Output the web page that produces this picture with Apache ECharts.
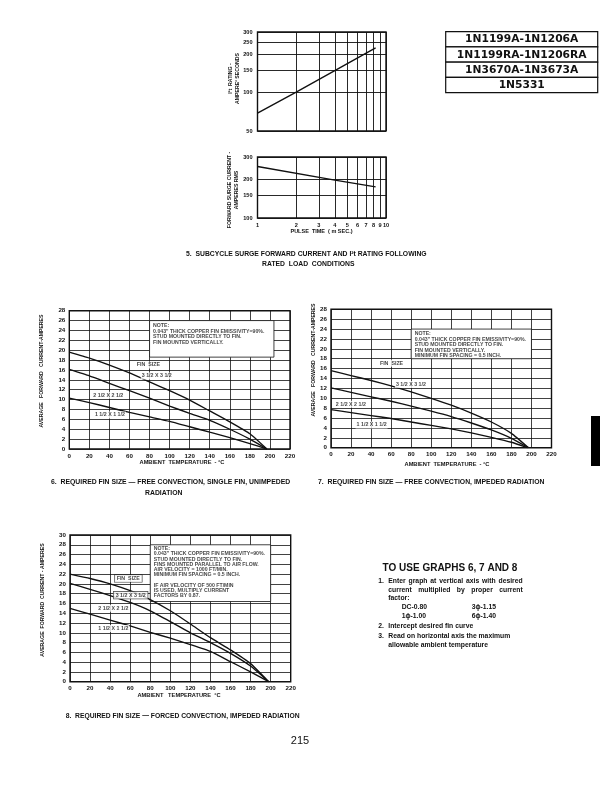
<!DOCTYPE html>
<html><head><meta charset="utf-8">
<script src="https://cdn.jsdelivr.net/npm/echarts@6/dist/echarts.min.js"></script>
<style>html,body{margin:0;padding:0;background:#fff}#c{width:612px;height:788px}</style>
</head><body><div id="c"></div>
<script>
// ---------- Figure 5 data ----------
const pulseTicks = [1, 2, 3, 4, 5, 6, 7, 8, 9, 10];
const i2tTicks = [50, 100, 150, 200, 250, 300];
const surgeTicks = [100, 150, 200, 300];
const i2tRating = [[1, 69], [2, 101], [8.3, 225]];
const surgeCurrent = [[1, 253], [4, 198], [8.3, 175]];

// ---------- Figures 6-8 data (ambient temp C, amperes) ----------
const fig6Fin35 = [[0,19.6],[20,18.4],[40,17.0],[60,15.4],[80,13.6],[100,11.8],[120,9.9],[140,7.7],[160,5.5],[180,3.1],[197,0]];
const fig6Fin25 = [[0,16.1],[20,14.8],[40,13.3],[60,11.8],[80,10.3],[100,8.7],[120,7.2],[140,5.8],[160,4.0],[180,2.0],[197,0]];
const fig6Fin15 = [[0,10.3],[20,9.4],[40,8.4],[60,7.4],[80,6.5],[100,5.6],[120,4.5],[140,3.4],[160,2.3],[180,1.1],[197,0]];

const fig7Fin35 = [[0,15.6],[20,14.6],[40,13.6],[60,12.5],[80,11.3],[100,10.0],[120,8.6],[140,7.0],[160,5.2],[180,2.9],[197,0]];
const fig7Fin25 = [[0,12.1],[20,11.2],[40,10.3],[60,9.4],[80,8.4],[100,7.4],[120,6.3],[140,5.0],[160,3.6],[180,1.9],[197,0]];
const fig7Fin15 = [[0,7.7],[20,7.1],[40,6.5],[60,5.9],[80,5.2],[100,4.5],[120,3.8],[140,3.0],[160,2.1],[180,1.1],[196,0]];

const fig8Fin35 = [[0,22.0],[20,21.1],[40,20.0],[60,18.6],[80,16.8],[100,14.5],[120,11.8],[140,9.0],[160,6.5],[180,3.7],[198,0]];
const fig8Fin25 = [[0,20.1],[20,18.9],[40,17.6],[60,16.2],[80,14.5],[100,12.3],[120,10.0],[140,8.0],[160,5.8],[180,3.2],[198,0]];
const fig8Fin15 = [[0,15.0],[20,13.8],[40,12.6],[60,11.4],[80,10.1],[100,8.9],[120,7.6],[140,6.2],[160,4.1],[180,2.0],[198,0]];

const finLabels = ['3 1/2 X 3 1/2', '2 1/2 X 2 1/2', '1 1/2 X 1 1/2'];
const partNumbers = ['1N1199A-1N1206A', '1N1199RA-1N1206RA', '1N3670A-1N3673A', '1N5331'];

// ---------- styling ----------
const F = 'Liberation Sans';
const INK = '#111';
const chart = echarts.init(document.getElementById('c'), null, {renderer: 'canvas', width: 612, height: 788});

const tickFont = {fontFamily: F, fontWeight: 'bold', fontSize: 6.2, color: INK};
function logX(grid, showLabels) {
  return {type: 'log', logBase: 10, gridIndex: grid, min: 1, max: 10,
    axisLine: {show: false}, axisTick: {show: false, customValues: pulseTicks},
    axisLabel: Object.assign({show: showLabels, customValues: pulseTicks, margin: 4}, tickFont, {fontSize: 5.6}),
    splitLine: {show: true, lineStyle: {color: INK, width: 0.9}}};
}
function logY(grid, min, max, ticks) {
  return {type: 'log', logBase: 10, gridIndex: grid, min: min, max: max,
    axisLine: {show: false}, axisTick: {show: false, customValues: ticks},
    axisLabel: Object.assign({customValues: ticks, margin: 5}, tickFont, {fontSize: 5.6}),
    splitLine: {show: true, lineStyle: {color: INK, width: 0.9}}};
}
function valX(grid) {
  return {type: 'value', gridIndex: grid, min: 0, max: 220, interval: 20,
    axisLine: {show: false}, axisTick: {show: false},
    axisLabel: Object.assign({margin: 4}, tickFont),
    splitLine: {show: true, lineStyle: {color: INK, width: 0.8}}};
}
function valY(grid, max) {
  return {type: 'value', gridIndex: grid, min: 0, max: max, interval: 2,
    axisLine: {show: false}, axisTick: {show: false},
    axisLabel: Object.assign({margin: 4}, tickFont),
    splitLine: {show: true, lineStyle: {color: INK, width: 0.8}}};
}
function curve(idx, data, extra) {
  return Object.assign({type: 'line', xAxisIndex: idx, yAxisIndex: idx, data: data,
    symbol: 'none', smooth: 0.15, silent: true, z: 3,
    lineStyle: {color: INK, width: 1.35}}, extra || {});
}
function noteArea(from, to) {
  return {markArea: {silent: true, z: 2,
    itemStyle: {color: '#fff', borderColor: INK, borderWidth: 0.8},
    label: {show: false},
    data: [[{coord: from}, {coord: to}]]}};
}
function labels(idx, items) {
  return {type: 'scatter', xAxisIndex: idx, yAxisIndex: idx, symbolSize: 1, silent: true, z: 5,
    itemStyle: {color: 'rgba(0,0,0,0)'},
    data: items.map(it => ({value: [it[0], it[1]], label: Object.assign({formatter: it[2]}, it[3] || {})})),
    label: {show: true, position: 'right', distance: 0, fontFamily: F, fontWeight: 'bold', fontSize: 5.3,
      color: INK, backgroundColor: '#fff', padding: [1, 1]}};
}
function note(idx, at, text, lh) {
  return {type: 'scatter', xAxisIndex: idx, yAxisIndex: idx, symbolSize: 1, silent: true, z: 6,
    itemStyle: {color: 'rgba(0,0,0,0)'},
    data: [{value: at}],
    label: {show: true, position: [0, 0], align: 'left', verticalAlign: 'top', formatter: text,
      fontFamily: F, fontWeight: 'bold', fontSize: 5.2, lineHeight: lh, color: INK}};
}

const gridBase = {show: true, borderColor: INK, borderWidth: 1.4, backgroundColor: '#fff'};
const grids = [
  Object.assign({left: 257.5, top: 32, width: 128.5, height: 99}, gridBase),
  Object.assign({left: 257.5, top: 157, width: 128.5, height: 61}, gridBase),
  Object.assign({left: 69.3, top: 310.7, width: 220.7, height: 138.3}, gridBase),
  Object.assign({left: 331, top: 309.3, width: 220.5, height: 138.4}, gridBase),
  Object.assign({left: 70, top: 535, width: 220.7, height: 146.7}, gridBase)
];

const note6 = 'NOTE:\n0.043" THICK COPPER FIN EMISSIVITY=90%.\nSTUD MOUNTED DIRECTLY TO FIN.\nFIN MOUNTED VERTICALLY.';
const note7 = 'NOTE:\n0.043" THICK COPPER FIN EMISSIVITY=90%.\nSTUD MOUNTED DIRECTLY TO FIN.\nFIN MOUNTED VERTICALLY.\nMINIMUM FIN SPACING = 0.5 INCH.';
const note8 = 'NOTE:\n0.043" THICK COPPER FIN EMISSIVITY=90%.\nSTUD MOUNTED DIRECTLY TO FIN.\nFINS MOUNTED PARALLEL TO AIR FLOW.\nAIR VELOCITY = 1000 FT/MIN.\nMINIMUM FIN SPACING = 0.5 INCH.\n\nIF AIR VELOCITY OF 500 FT/MIN\nIS USED, MULTIPLY CURRENT\nFACTORS BY 0.87.';

const boxed = {borderColor: INK, borderWidth: 0.6, padding: [1, 2]};

const series = [
  curve(0, i2tRating, {smooth: false}),
  curve(1, surgeCurrent, {smooth: false}),
  curve(2, fig6Fin35, noteArea([80, 18.6], [204, 26])),
  curve(2, fig6Fin25),
  curve(2, fig6Fin15),
  curve(3, fig7Fin35, noteArea([80, 18], [200, 24])),
  curve(3, fig7Fin25),
  curve(3, fig7Fin15),
  curve(4, fig8Fin35, noteArea([80, 16.4], [200, 28])),
  curve(4, fig8Fin25),
  curve(4, fig8Fin15),
  note(2, [84, 25.5], note6, 5.8),
  note(3, [84, 23.5], note7, 5.5),
  note(4, [84, 27.6], note8, 5.2),
  labels(2, [[65.7, 17.0, 'FIN  SIZE'], [70.7, 14.8, finLabels[0]], [22.4, 10.9, finLabels[1]], [24, 6.9, finLabels[2]]]),
  labels(3, [[47.3, 17.1, 'FIN  SIZE'], [63.3, 12.8, finLabels[0]], [3.3, 8.8, finLabels[1]], [24, 4.6, finLabels[2]]]),
  labels(4, [[44, 21.1, 'FIN  SIZE', boxed], [43, 17.7, finLabels[0], boxed], [26.7, 15.0, finLabels[1]], [26.7, 10.9, finLabels[2]]])
];

// ---------- page text ----------
function T(x, y, text, size, o) {
  o = o || {};
  return {type: 'text', x: x, y: y, rotation: o.rot || 0, silent: true, z: 10,
    style: {text: text, fontFamily: o.family || F, fontWeight: o.weight || 'bold', fontSize: size,
      fill: INK, align: o.align || 'left', verticalAlign: 'middle'}};
}
const measureCtx = document.createElement('canvas').getContext('2d');
function justified(x0, x1, y, line, size) {
  measureCtx.font = 'bold ' + size + 'px "' + F + '"';
  const words = line.split(' ');
  const widths = words.map(w => measureCtx.measureText(w).width);
  const total = widths.reduce((a, b) => a + b, 0);
  const gap = (x1 - x0 - total) / (words.length - 1);
  const out = [];
  let x = x0;
  words.forEach((w, i) => { out.push(T(x, y, w, size)); x += widths[i] + gap; });
  return out;
}
const graphics = [];
const bx = 445.7, bw = 152, by = 31.7, rh = 15.25;
partNumbers.forEach((p, i) => {
  graphics.push({type: 'rect', silent: true, shape: {x: bx, y: by + i * rh, width: bw, height: rh},
    style: {fill: '#fff', stroke: INK, lineWidth: 1.2}});
  graphics.push(T(bx + bw / 2, by + i * rh + rh / 2 + 0.3, p, 10.7, {family: 'DejaVu Sans', align: 'center'}));
});
graphics.push({type: 'rect', silent: true, shape: {x: 591, y: 416, width: 9, height: 50}, style: {fill: '#000'}});
graphics.push(T(231, 78.5, 'I\u00B2t  RATING -', 5.2, {rot: Math.PI / 2, align: 'center'}));
graphics.push(T(237.7, 78.5, 'AMPERE\u00B2 SECONDS', 5.2, {rot: Math.PI / 2, align: 'center'}));
graphics.push(T(230, 190, 'FORWARD SURGE CURRENT -', 5.2, {rot: Math.PI / 2, align: 'center'}));
graphics.push(T(237, 190, 'AMPERES RMS', 5.2, {rot: Math.PI / 2, align: 'center'}));
graphics.push(T(321.5, 231, 'PULSE  TIME  ( m SEC.)', 5.5, {align: 'center'}));
graphics.push(T(186, 254.3, '5.  SUBCYCLE SURGE FORWARD CURRENT AND I\u00B2t RATING FOLLOWING', 6.8));
graphics.push(T(308.3, 264.3, 'RATED  LOAD  CONDITIONS', 6.8, {align: 'center'}));
graphics.push(T(42, 371, 'AVERAGE   FORWARD   CURRENT-AMPERES', 5.2, {rot: Math.PI / 2, align: 'center'}));
graphics.push(T(182, 462.7, 'AMBIENT  TEMPERATURE  - \u00B0C', 5.7, {align: 'center'}));
graphics.push(T(51, 482.3, '6.  REQUIRED FIN SIZE \u2014 FREE CONVECTION, SINGLE FIN, UNIMPEDED', 6.85));
graphics.push(T(145, 493.3, 'RADIATION', 6.85));
graphics.push(T(313.3, 360, 'AVERAGE   FORWARD   CURRENT-AMPERES', 5.2, {rot: Math.PI / 2, align: 'center'}));
graphics.push(T(447, 464, 'AMBIENT  TEMPERATURE  - \u00B0C', 5.7, {align: 'center'}));
graphics.push(T(318, 482.3, '7.  REQUIRED FIN SIZE \u2014 FREE CONVECTION, IMPEDED RADIATION', 6.85));
graphics.push(T(43, 600, 'AVERAGE  FORWARD  CURRENT - AMPERES', 5.2, {rot: Math.PI / 2, align: 'center'}));
graphics.push(T(179, 695, 'AMBIENT   TEMPERATURE  \u00B0C', 5.7, {align: 'center'}));
graphics.push(T(65.7, 716, '8.  REQUIRED FIN SIZE \u2014 FORCED CONVECTION, IMPEDED RADIATION', 6.75));
graphics.push(T(450, 568, 'TO USE GRAPHS 6, 7 AND 8', 10, {align: 'center'}));
const BS = 6.8;
graphics.push(T(378.3, 581, '1.', BS));
justified(388.3, 522.7, 581, 'Enter graph at vertical axis with desired', BS).forEach(g => graphics.push(g));
justified(388.3, 522.7, 590, 'current multiplied by proper current', BS).forEach(g => graphics.push(g));
graphics.push(T(388.3, 598.5, 'factor:', BS));
graphics.push(T(401.7, 607.5, 'DC-0.80', BS));
graphics.push(T(471.7, 607.5, '3\u03D5-1.15', BS));
graphics.push(T(401.7, 616, '1\u03D5-1.00', BS));
graphics.push(T(471.7, 616, '6\u03D5-1.40', BS));
graphics.push(T(378.3, 626.5, '2.', BS));
graphics.push(T(388.3, 626.5, 'Intercept desired fin curve', BS));
graphics.push(T(378.3, 636, '3.', BS));
graphics.push(T(388.3, 636, 'Read on horizontal axis the maximum', BS));
graphics.push(T(388.3, 645, 'allowable ambient temperature', BS));
graphics.push(T(300, 741, '215', 11, {weight: 'normal', align: 'center'}));

chart.setOption({
  animation: false,
  backgroundColor: '#fff',
  grid: grids,
  xAxis: [logX(0, false), logX(1, true), valX(2), valX(3), valX(4)],
  yAxis: [logY(0, 50, 300, i2tTicks), logY(1, 100, 300, surgeTicks), valY(2, 28), valY(3, 28), valY(4, 30)],
  series: series,
  graphic: graphics
});
</script>
</body></html>
